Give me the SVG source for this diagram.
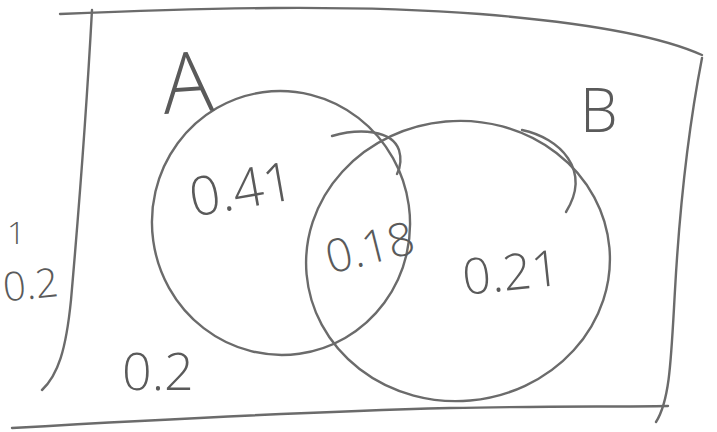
<svg xmlns="http://www.w3.org/2000/svg" width="717" height="432" viewBox="0 0 717 432">
  <style>
    .ink { fill: none; stroke: #6b6b6b; stroke-width: 2.4; stroke-linecap: round; stroke-linejoin: round; }
    .lbl { font-family: "Open Sans", "Liberation Sans", sans-serif; font-weight: 300; fill: #5a5a5a; }
  </style>
  <rect width="717" height="432" fill="#ffffff"/>
  <g id="box">
    <path class="ink" d="M60,14 C200,8 350,4 480,14 C580,22 660,36 702,55"/>
    <path class="ink" d="M92,10 C86,120 78,220 71,300 C66,350 58,375 42,390"/>
    <path class="ink" d="M702,58 C690,120 680,200 675,290 C671,360 670,400 656,422"/>
    <path class="ink" d="M12,428 C150,420 300,412 450,408 C550,406 620,407 668,406"/>
  </g>
  <g id="setA">
    <ellipse class="ink" cx="281" cy="223" rx="129" ry="132" transform="rotate(-8 281 223)"/>
    <text class="lbl" x="162" y="112" font-size="84" transform="rotate(-4 190 80)">A</text>
  </g>
  <g id="setB">
    <ellipse class="ink" cx="458" cy="261" rx="152" ry="140" transform="rotate(-5 458 261)"/>
    <text class="lbl" x="580" y="132" font-size="60">B</text>
  </g>
  <g id="connectors">
    <path class="ink" d="M332,136 C360,128 392,130 399,150 C402,160 400,168 397,174"/>
    <path class="ink" d="M522,130 C560,138 592,170 566,212"/>
  </g>
  <g id="labels">
    <text class="lbl" x="188" y="210" font-size="54" transform="rotate(-10 230 185)">0.41</text>
    <text class="lbl" x="324" y="266" font-size="46" transform="rotate(-14 360 245)">0.18</text>
    <text class="lbl" x="462" y="290" font-size="50" transform="rotate(-6 510 270)">0.21</text>
    <text class="lbl" x="122" y="390" font-size="52">0.2</text>
    <text class="lbl" x="7" y="244" font-size="32">1</text>
    <text class="lbl" x="3" y="299" font-size="40" transform="rotate(-6 28 285)">0.2</text>
  </g>
</svg>
